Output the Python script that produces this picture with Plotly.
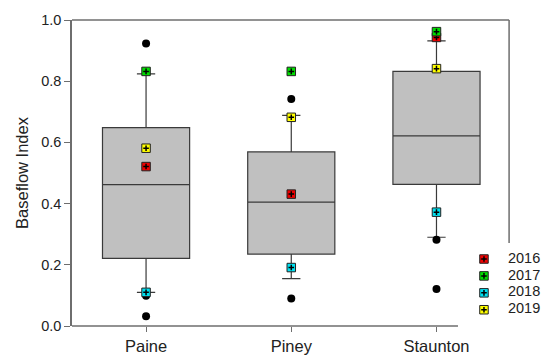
import plotly.graph_objects as go

# Baseflow index summary by site
sites = ["Paine", "Piney", "Staunton"]
q1 = [0.221, 0.235, 0.463]
median = [0.462, 0.405, 0.621]
q3 = [0.648, 0.569, 0.832]
lower_whisker = [0.110, 0.155, 0.290]
upper_whisker = [0.824, 0.688, 0.932]

# Points beyond the whiskers
outlier_site = ["Paine", "Paine", "Paine", "Piney", "Piney", "Staunton", "Staunton"]
outlier_value = [0.923, 0.099, 0.032, 0.742, 0.090, 0.282, 0.121]

# Annual baseflow index per site
years = ["2016", "2017", "2018", "2019"]
bfi_2016 = [0.521, 0.431, 0.943]
bfi_2017 = [0.832, 0.832, 0.962]
bfi_2018 = [0.110, 0.191, 0.372]
bfi_2019 = [0.581, 0.682, 0.841]
year_values = [bfi_2016, bfi_2017, bfi_2018, bfi_2019]
year_colors = ["#ee0000", "#00dd00", "#00e0f0", "#ffff00"]

y_ticks = [0.0, 0.2, 0.4, 0.6, 0.8, 1.0]

FONT = "Arial, Liberation Sans, sans-serif"
TEXT = "#222222"
FRAME = "#6e6e6e"

# main plot occupies the left part of the paper; key sits in the lower right
MAIN_RIGHT = 0.928
KEY_X_DOMAIN = [0.8747, 0.9256]
KEY_Y_DOMAIN = [0.0255, 0.2466]

fig = go.Figure()

fig.add_trace(go.Box(
    x=sites,
    q1=q1,
    median=median,
    q3=q3,
    lowerfence=lower_whisker,
    upperfence=upper_whisker,
    boxpoints=False,
    width=0.6,
    whiskerwidth=0.21,
    fillcolor="#c0c0c0",
    line=dict(color="#3a3a3a", width=1.2),
    showlegend=False,
    hoverinfo="skip",
))

fig.add_trace(go.Scatter(
    x=outlier_site,
    y=outlier_value,
    mode="markers",
    marker=dict(symbol="circle", size=8, color="black"),
    showlegend=False,
    hoverinfo="skip",
))


def year_marker(x, y, color, xaxis="x", yaxis="y"):
    square = go.Scatter(
        x=x, y=y, mode="markers", xaxis=xaxis, yaxis=yaxis, cliponaxis=False,
        marker=dict(symbol="square", size=8.5, color=color,
                    line=dict(color="#222222", width=1)),
        showlegend=False, hoverinfo="skip",
    )
    cross = go.Scatter(
        x=x, y=y, mode="markers", xaxis=xaxis, yaxis=yaxis, cliponaxis=False,
        marker=dict(symbol="cross-thin", size=4,
                    line=dict(color="black", width=1.5)),
        showlegend=False, hoverinfo="skip",
    )
    return square, cross


for year, vals, color in zip(years, year_values, year_colors):
    square, cross = year_marker(sites, vals, color)
    square.name = year
    fig.add_trace(square)
    fig.add_trace(cross)

# key: one row per year on its own small axis pair
for i, (year, color) in enumerate(zip(years, year_colors)):
    square, cross = year_marker([0], [i], color, "x2", "y2")
    fig.add_trace(square)
    fig.add_trace(cross)
fig.add_trace(go.Scatter(
    x=[1] * len(years), y=list(range(len(years))), text=years,
    mode="text", textposition="middle right", cliponaxis=False,
    textfont=dict(size=14.5, family=FONT, color=TEXT),
    xaxis="x2", yaxis="y2", showlegend=False, hoverinfo="skip",
))

fig.update_layout(
    width=543,
    height=355,
    margin=dict(l=72, r=0, t=20, b=29),
    paper_bgcolor="white",
    plot_bgcolor="white",
    font=dict(family=FONT, color=TEXT),
    showlegend=False,
    xaxis=dict(domain=[0, MAIN_RIGHT], range=[-0.51, 2.5], automargin=False,
               showline=False, showgrid=False, zeroline=False,
               ticks="outside", ticklen=5, tickcolor=FRAME, tickwidth=1,
               tickfont=dict(size=16.5, family=FONT, color=TEXT)),
    yaxis=dict(range=[0, 1], tickvals=y_ticks, tickformat=".1f", automargin=False,
               showline=True, linecolor=FRAME, linewidth=1.5,
               showgrid=False, zeroline=False,
               ticks="outside", ticklen=6, tickcolor=FRAME, tickwidth=1,
               tickfont=dict(size=14.5, family=FONT, color=TEXT),
               title=dict(text="Baseflow Index", standoff=8,
                          font=dict(size=16.5, family=FONT, color=TEXT))),
    xaxis2=dict(domain=KEY_X_DOMAIN, range=[0, 1], anchor="y2", visible=False,
                fixedrange=True),
    yaxis2=dict(domain=KEY_Y_DOMAIN, range=[3.5, -0.5], anchor="x2", visible=False,
                fixedrange=True),
)

# frame: bottom axis stops short of the key, right side stops above it
frame_line = dict(color=FRAME, width=1.5)
fig.add_shape(type="line", xref="paper", yref="paper",
              x0=0, x1=0.8195, y0=0, y1=0, line=frame_line)
fig.add_shape(type="line", xref="paper", yref="paper",
              x0=0, x1=MAIN_RIGHT, y0=1, y1=1, line=frame_line)
fig.add_shape(type="line", xref="paper", yref="paper",
              x0=MAIN_RIGHT, x1=MAIN_RIGHT, y0=0.271, y1=1, line=frame_line)

fig.write_html("out.html")
